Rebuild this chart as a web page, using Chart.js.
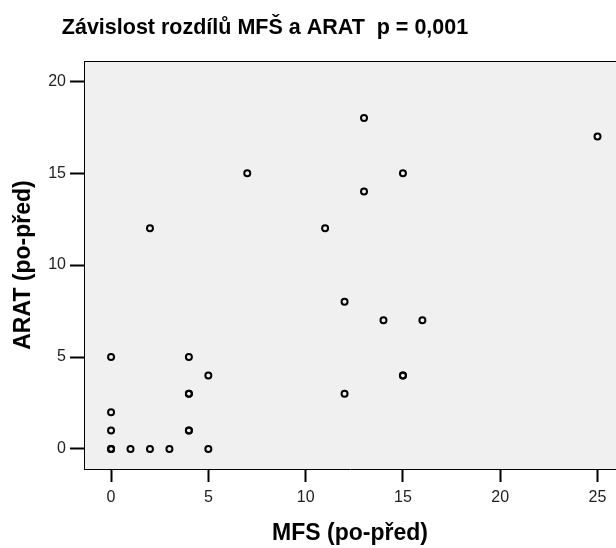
<!DOCTYPE html>
<html>
<head>
<meta charset="utf-8">
<script src="https://cdn.jsdelivr.net/npm/chart.js@4"></script>
<style>
  html, body { margin: 0; padding: 0; background: #fff; }
  #wrap { width: 616px; height: 548px; }
</style>
</head>
<body>
<div id="wrap"><canvas id="scatterChart" width="616" height="548"></canvas></div>
<script>
// MFS vs ARAT differences (po - před), duplicates kept where markers overlap
const mfsDiff  = [0, 0, 0, 0, 0, 0, 1, 2, 3, 4, 4, 4, 4, 4, 5, 5, 2, 7, 11, 12, 12, 13, 13, 14, 15, 15, 15, 16, 25];
const aratDiff = [5, 2, 1, 0, 0, 0, 0, 0, 0, 5, 3, 3, 1, 1, 4, 0, 12, 15, 12, 8, 3, 18, 14, 7, 15, 4, 4, 7, 17];
const xTicks = [0, 5, 10, 15, 20, 25];
const yTicks = [0, 5, 10, 15, 20];
const chartTitle = 'Závislost rozdílů MFŠ a ARAT  p = 0,001';
const xTitle = 'MFS (po-před)';
const yTitle = 'ARAT (po-před)';

const points = mfsDiff.map((x, i) => ({ x: x, y: aratDiff[i] }));

// grey plot area + top frame line + title text
const framePlugin = {
  id: 'frame',
  beforeDraw(chart) {
    const { ctx, chartArea: a } = chart;
    ctx.save();
    ctx.fillStyle = '#f0f0f0';
    ctx.fillRect(a.left, a.top, a.right - a.left, a.bottom - a.top);
    ctx.strokeStyle = '#000';
    ctx.lineWidth = 1;
    ctx.beginPath();
    ctx.moveTo(a.left, a.top + 0.5);
    ctx.lineTo(a.right, a.top + 0.5);
    ctx.stroke();
    ctx.restore();
  },
  afterDraw(chart) {
    const ctx = chart.ctx;
    ctx.save();
    ctx.fillStyle = '#000';
    ctx.font = 'bold 21.5px "Liberation Sans", Arial, sans-serif';
    ctx.textAlign = 'center';
    ctx.textBaseline = 'middle';
    ctx.fillText(chartTitle, 265, 28);
    ctx.restore();
  }
};

const tickFont = { family: '"Liberation Sans", Arial, sans-serif', size: 16 };
const titleFont = { family: '"Liberation Sans", Arial, sans-serif', size: 23, weight: 'bold' };

new Chart(document.getElementById('scatterChart'), {
  type: 'scatter',
  data: {
    datasets: [{
      data: points,
      pointRadius: 3,
      pointHoverRadius: 3,
      pointBorderWidth: 2,
      pointBorderColor: '#000',
      pointBackgroundColor: 'rgba(0,0,0,0)'
    }]
  },
  options: {
    responsive: false,
    animation: false,
    devicePixelRatio: 1,
    layout: { autoPadding: false, padding: { top: 61, right: 0, left: 0, bottom: 0 } },
    plugins: { legend: { display: false }, tooltip: { enabled: false } },
    scales: {
      x: {
        type: 'linear',
        min: -1.39,
        max: 25.95,
        afterBuildTicks: (s) => { s.ticks = xTicks.map(v => ({ value: v })); },
        afterFit: (s) => { s.height = 79; s.paddingLeft = 0; s.paddingRight = 0; },
        grid: { drawOnChartArea: false, drawTicks: true, tickLength: 13, tickColor: '#000', tickWidth: 2 },
        border: { display: true, color: '#000', width: 1 },
        ticks: { color: '#222', font: tickFont, padding: 6, maxRotation: 0 },
        title: { display: true, text: xTitle, color: '#000', font: titleFont, padding: { top: 0, bottom: 1 } }
      },
      y: {
        type: 'linear',
        min: -1.09,
        max: 21.1,
        afterBuildTicks: (s) => { s.ticks = yTicks.map(v => ({ value: v })); },
        afterFit: (s) => { s.width = 84; s.paddingTop = 0; s.paddingBottom = 0; },
        grid: { drawOnChartArea: false, drawTicks: true, tickLength: 14, tickColor: '#000', tickWidth: 2 },
        border: { display: true, color: '#000', width: 1 },
        ticks: { color: '#222', font: tickFont, padding: 4 },
        title: { display: true, text: yTitle, color: '#000', font: titleFont, padding: { top: 10, bottom: 0 } }
      }
    }
  },
  plugins: [framePlugin]
});
</script>
</body>
</html>
